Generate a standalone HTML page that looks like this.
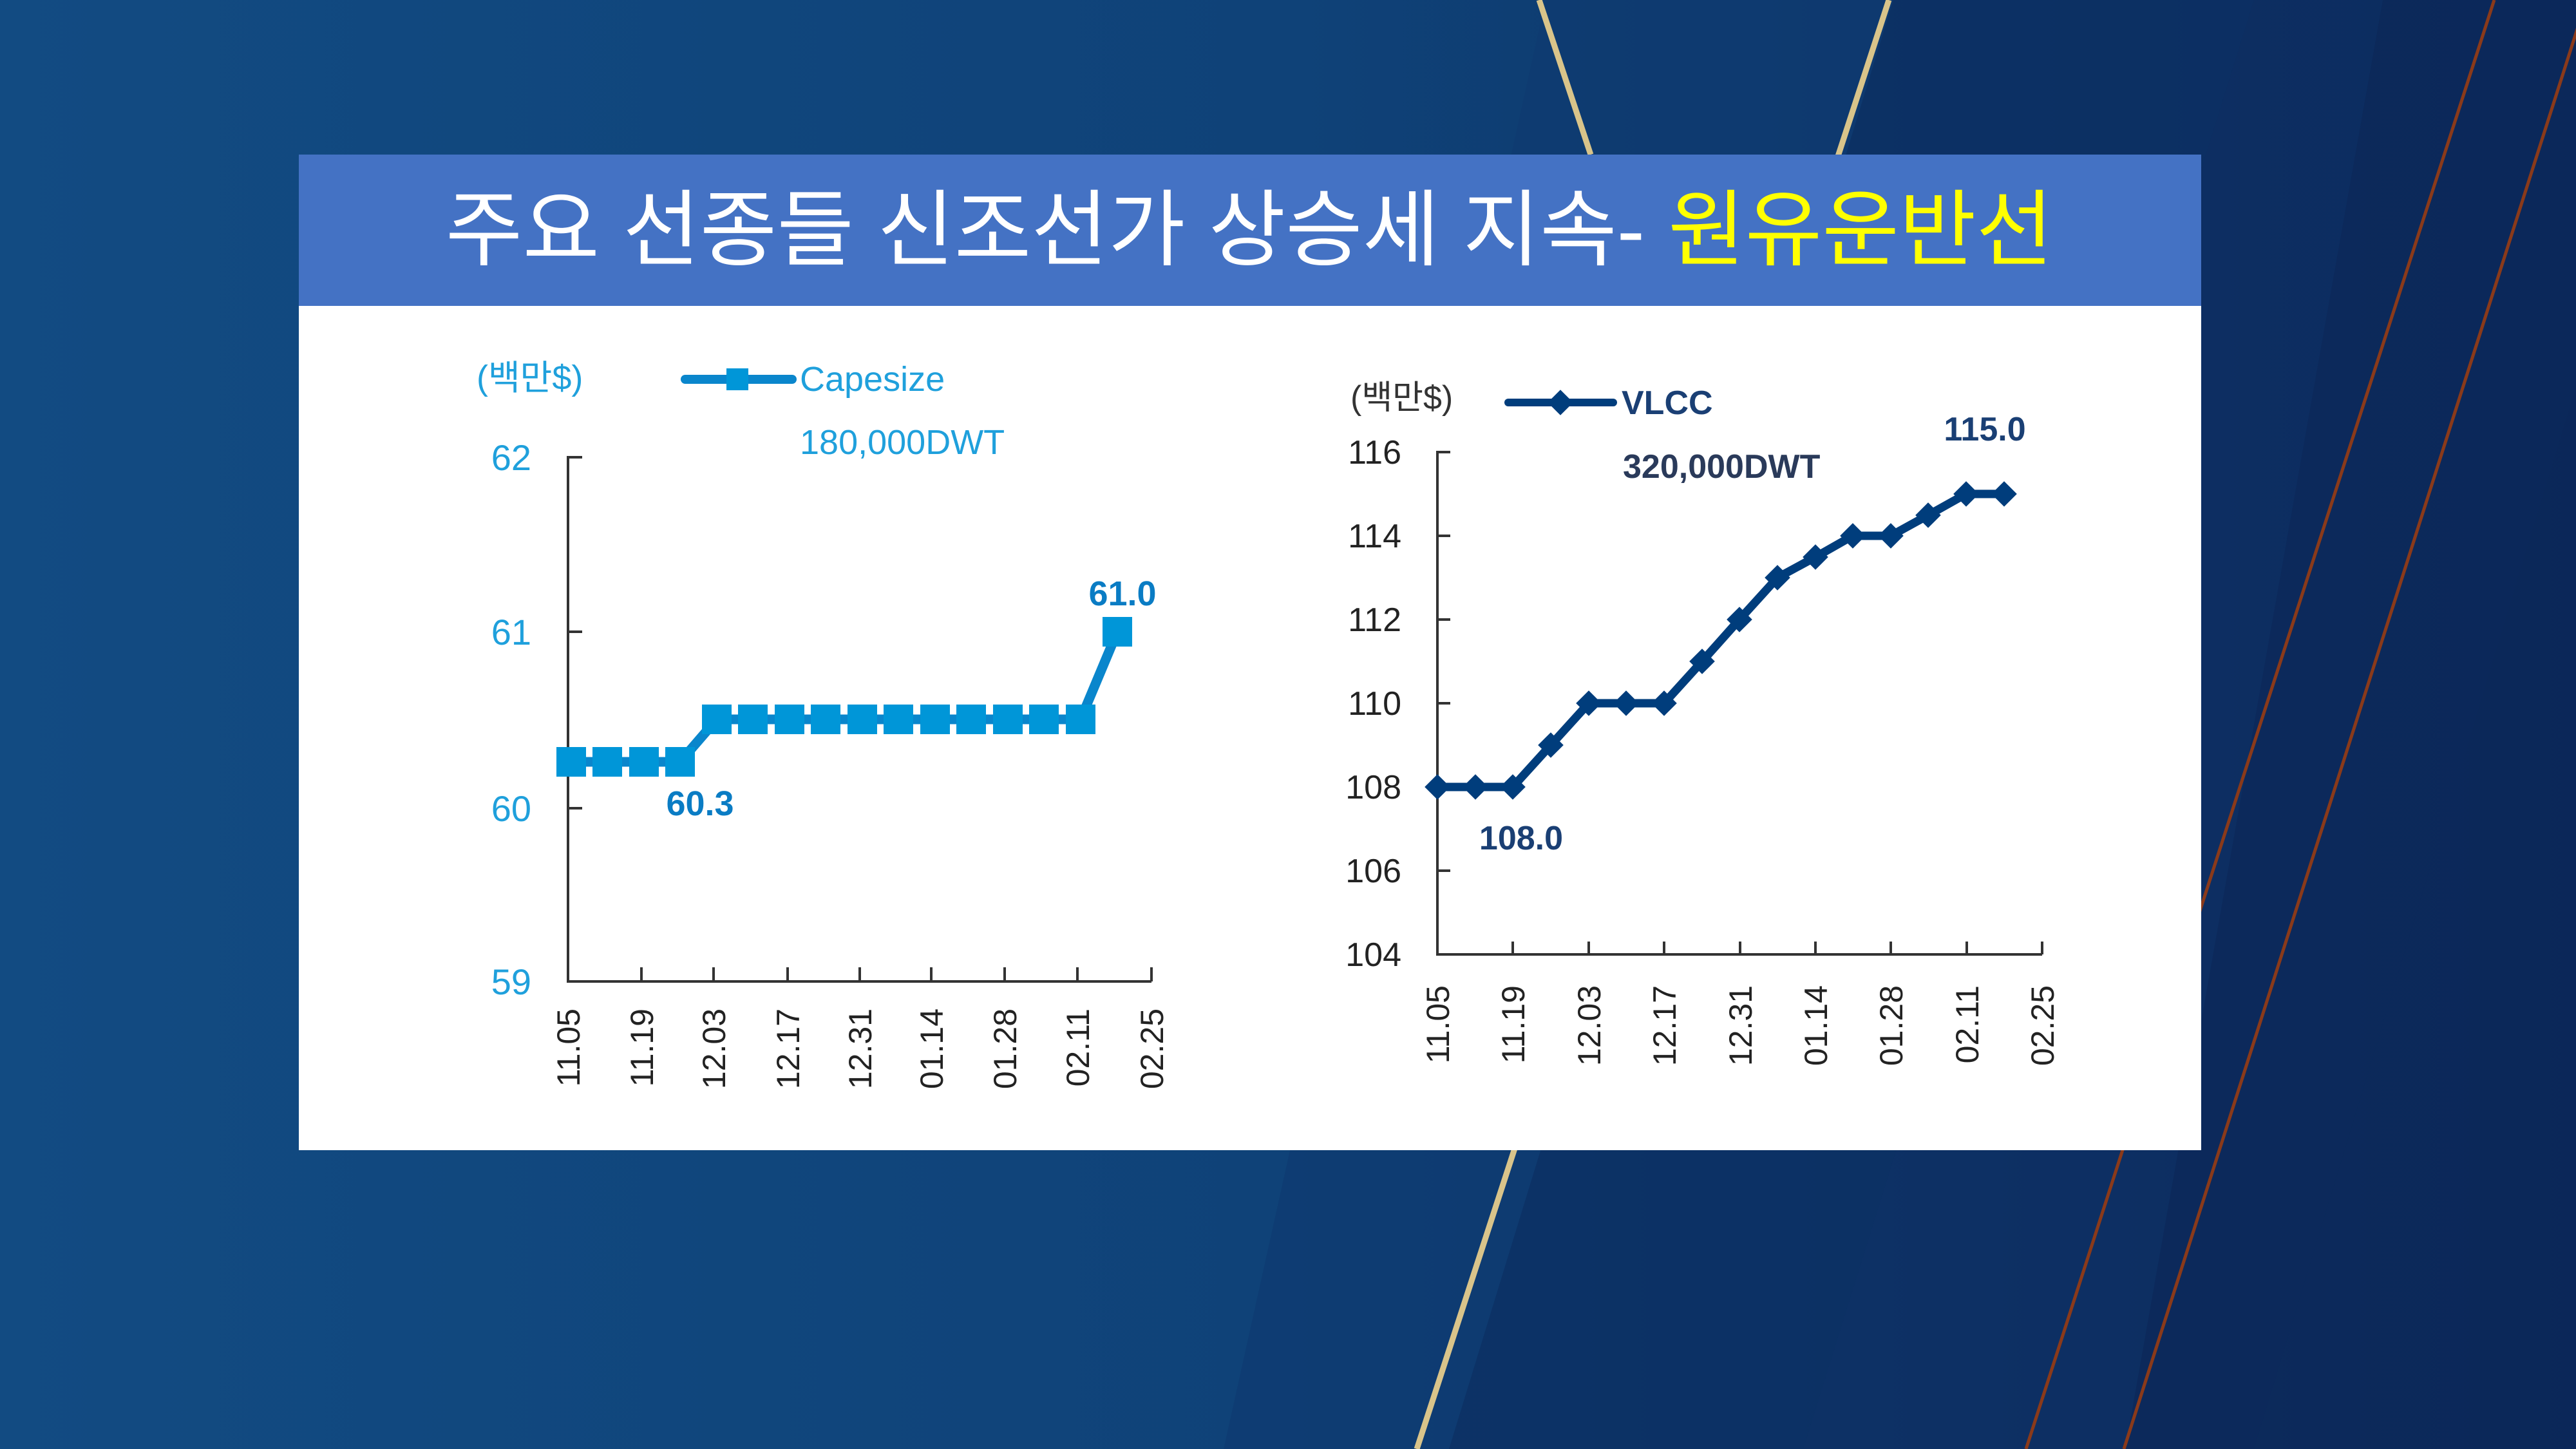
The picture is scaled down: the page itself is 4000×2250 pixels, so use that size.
<!DOCTYPE html>
<html><head><meta charset="utf-8"><style>
html,body{margin:0;padding:0;width:4000px;height:2250px;overflow:hidden;background:#0f3f75}
svg{display:block}
text{font-family:"Liberation Sans","Noto Sans CJK KR","NanumGothic",sans-serif}
</style></head><body>
<svg width="4000" height="2250" viewBox="0 0 4000 2250" xmlns="http://www.w3.org/2000/svg">
<defs>
<linearGradient id="bg" x1="0" y1="0" x2="1" y2="0">
<stop offset="0" stop-color="#124b82"/><stop offset="0.5" stop-color="#0f4278"/><stop offset="1" stop-color="#0c2a5c"/>
</linearGradient>
</defs>
<rect width="4000" height="2250" fill="url(#bg)"/>
<polygon points="2400,0 2940,0 2250,2250 1900,2250" fill="#0e3a70" opacity="0.7"/>
<polygon points="2940,0 3500,0 2800,2250 2250,2250" fill="#0c2f63" opacity="0.8"/>
<polygon points="3500,0 4000,0 4000,600 3500,2250 2800,2250" fill="#0d2d60" opacity="0.6"/>
<polygon points="3700,0 4000,0 4000,2250 3300,2250" fill="#0b2657" opacity="0.6"/>
<line x1="2390" y1="0" x2="2470" y2="240" stroke="#d9c48a" stroke-width="9"/>
<line x1="2933" y1="0" x2="2200" y2="2250" stroke="#d9c48a" stroke-width="9"/>
<line x1="3873" y1="0" x2="3146" y2="2250" stroke="#8a3a1a" stroke-width="5"/>
<line x1="4010" y1="20" x2="3298" y2="2250" stroke="#8a3a1a" stroke-width="5"/>
<rect x="464" y="475" width="2954" height="1311" fill="#ffffff"/>
<rect x="464" y="240" width="2954" height="235" fill="#4472c4"/>
<text x="1940" y="402" font-size="130" fill="#ffffff" text-anchor="middle">주요 선종들 신조선가 상승세 지속- <tspan fill="#ffff00">원유운반선</tspan></text>

<g fill="#1fa0dc" font-size="54">
<text x="740" y="605">(백만$)</text>
<text x="1242" y="607">Capesize</text>
<text x="1242" y="705">180,000DWT</text>
<g text-anchor="end" font-size="56">
<text x="825" y="730">62</text>
<text x="825" y="1001">61</text>
<text x="825" y="1275">60</text>
<text x="825" y="1544">59</text>
</g>
</g>
<line x1="1064" y1="589" x2="1230" y2="589" stroke="#0a86cc" stroke-width="14" stroke-linecap="round"/>
<rect x="1128" y="572" width="34" height="34" fill="#0096d8"/>
<g stroke="#333" stroke-width="4" fill="none">
<polyline points="904,710 882,710 882,1524 1788,1524"/>
<line x1="882" y1="981" x2="904" y2="981"/>
<line x1="882" y1="1255" x2="904" y2="1255"/>
<line x1="996" y1="1524" x2="996" y2="1502"/><line x1="1108" y1="1524" x2="1108" y2="1502"/>
<line x1="1223" y1="1524" x2="1223" y2="1502"/><line x1="1335" y1="1524" x2="1335" y2="1502"/>
<line x1="1446" y1="1524" x2="1446" y2="1502"/><line x1="1560" y1="1524" x2="1560" y2="1502"/>
<line x1="1673" y1="1524" x2="1673" y2="1502"/><line x1="1788" y1="1524" x2="1788" y2="1502"/>
</g>
<polyline fill="none" stroke="#0a86cc" stroke-width="15" points="887,1183 943,1183 1000,1183 1056,1183 1113,1117 1169,1117 1226,1117 1282,1117 1339,1117 1395,1117 1452,1117 1508,1117 1565,1117 1621,1117 1678,1117 1735,981"/>
<g fill="#0096d8">
<rect x="864" y="1160" width="46" height="46"/><rect x="920" y="1160" width="46" height="46"/><rect x="977" y="1160" width="46" height="46"/><rect x="1033" y="1160" width="46" height="46"/>
<rect x="1090" y="1094" width="46" height="46"/><rect x="1146" y="1094" width="46" height="46"/><rect x="1203" y="1094" width="46" height="46"/><rect x="1259" y="1094" width="46" height="46"/><rect x="1316" y="1094" width="46" height="46"/><rect x="1372" y="1094" width="46" height="46"/><rect x="1429" y="1094" width="46" height="46"/><rect x="1485" y="1094" width="46" height="46"/><rect x="1542" y="1094" width="46" height="46"/><rect x="1598" y="1094" width="46" height="46"/><rect x="1655" y="1094" width="46" height="46"/>
<rect x="1712" y="958" width="46" height="46"/>
</g>
<g fill="#0a7cc4" font-size="54" font-weight="bold" text-anchor="middle">
<text x="1743" y="940">61.0</text>
<text x="1087" y="1266">60.3</text>
</g>
<g fill="#222" font-size="50" text-anchor="end">
<text transform="translate(900,1566) rotate(-90)">11.05</text>
<text transform="translate(1014,1566) rotate(-90)">11.19</text>
<text transform="translate(1126,1566) rotate(-90)">12.03</text>
<text transform="translate(1241,1566) rotate(-90)">12.17</text>
<text transform="translate(1353,1566) rotate(-90)">12.31</text>
<text transform="translate(1464,1566) rotate(-90)">01.14</text>
<text transform="translate(1578,1566) rotate(-90)">01.28</text>
<text transform="translate(1691,1566) rotate(-90)">02.11</text>
<text transform="translate(1806,1566) rotate(-90)">02.25</text>
</g>

<text x="2097" y="635" font-size="52" fill="#333">(백만$)</text>
<line x1="2342" y1="625" x2="2505" y2="625" stroke="#003d7c" stroke-width="12" stroke-linecap="round"/>
<rect x="2409" y="611" width="28" height="28" fill="#003d7c" transform="rotate(45 2423 625)"/>
<text x="2518" y="643" font-size="52" font-weight="bold" fill="#1a3f74">VLCC</text>
<text x="2520" y="742" font-size="52" font-weight="bold" fill="#2a3a5a">320,000DWT</text>
<g fill="#222" font-size="52" text-anchor="end">
<text x="2176" y="720">116</text><text x="2176" y="850">114</text><text x="2176" y="980">112</text>
<text x="2176" y="1110">110</text><text x="2176" y="1240">108</text><text x="2176" y="1370">106</text><text x="2176" y="1500">104</text>
</g>
<g stroke="#333" stroke-width="4" fill="none">
<polyline points="2252,702 2232,702 2232,1482 3171,1482"/>
<line x1="2232" y1="832" x2="2252" y2="832"/><line x1="2232" y1="962" x2="2252" y2="962"/>
<line x1="2232" y1="1092" x2="2252" y2="1092"/><line x1="2232" y1="1222" x2="2252" y2="1222"/>
<line x1="2232" y1="1352" x2="2252" y2="1352"/>
<line x1="2349" y1="1482" x2="2349" y2="1462"/><line x1="2467" y1="1482" x2="2467" y2="1462"/>
<line x1="2584" y1="1482" x2="2584" y2="1462"/><line x1="2702" y1="1482" x2="2702" y2="1462"/>
<line x1="2819" y1="1482" x2="2819" y2="1462"/><line x1="2936" y1="1482" x2="2936" y2="1462"/>
<line x1="3054" y1="1482" x2="3054" y2="1462"/><line x1="3171" y1="1482" x2="3171" y2="1462"/>
</g>
<polyline fill="none" stroke="#003d7c" stroke-width="13" points="2232,1222 2291,1222 2349,1222 2408,1157 2467,1092 2525,1092 2584,1092 2643,1027 2701,962 2760,897 2819,865 2877,832 2936,832 2994,800 3053,767 3112,767"/>
<g fill="#003d7c">
<rect x="2218" y="1208" width="28" height="28" transform="rotate(45 2232 1222)"/>
<rect x="2277" y="1208" width="28" height="28" transform="rotate(45 2291 1222)"/>
<rect x="2335" y="1208" width="28" height="28" transform="rotate(45 2349 1222)"/>
<rect x="2394" y="1143" width="28" height="28" transform="rotate(45 2408 1157)"/>
<rect x="2453" y="1078" width="28" height="28" transform="rotate(45 2467 1092)"/>
<rect x="2511" y="1078" width="28" height="28" transform="rotate(45 2525 1092)"/>
<rect x="2570" y="1078" width="28" height="28" transform="rotate(45 2584 1092)"/>
<rect x="2629" y="1013" width="28" height="28" transform="rotate(45 2643 1027)"/>
<rect x="2687" y="948" width="28" height="28" transform="rotate(45 2701 962)"/>
<rect x="2746" y="883" width="28" height="28" transform="rotate(45 2760 897)"/>
<rect x="2805" y="851" width="28" height="28" transform="rotate(45 2819 865)"/>
<rect x="2863" y="818" width="28" height="28" transform="rotate(45 2877 832)"/>
<rect x="2922" y="818" width="28" height="28" transform="rotate(45 2936 832)"/>
<rect x="2980" y="786" width="28" height="28" transform="rotate(45 2994 800)"/>
<rect x="3039" y="753" width="28" height="28" transform="rotate(45 3053 767)"/>
<rect x="3098" y="753" width="28" height="28" transform="rotate(45 3112 767)"/>
</g>
<g fill="#1a3f74" font-size="52" font-weight="bold" text-anchor="middle">
<text x="3082" y="684">115.0</text>
<text x="2362" y="1319">108.0</text>
</g>
<g fill="#222" font-size="50" text-anchor="end">
<text transform="translate(2250,1530) rotate(-90)">11.05</text>
<text transform="translate(2367,1530) rotate(-90)">11.19</text>
<text transform="translate(2485,1530) rotate(-90)">12.03</text>
<text transform="translate(2602,1530) rotate(-90)">12.17</text>
<text transform="translate(2720,1530) rotate(-90)">12.31</text>
<text transform="translate(2837,1530) rotate(-90)">01.14</text>
<text transform="translate(2954,1530) rotate(-90)">01.28</text>
<text transform="translate(3072,1530) rotate(-90)">02.11</text>
<text transform="translate(3189,1530) rotate(-90)">02.25</text>
</g>
</svg>
</body></html>
